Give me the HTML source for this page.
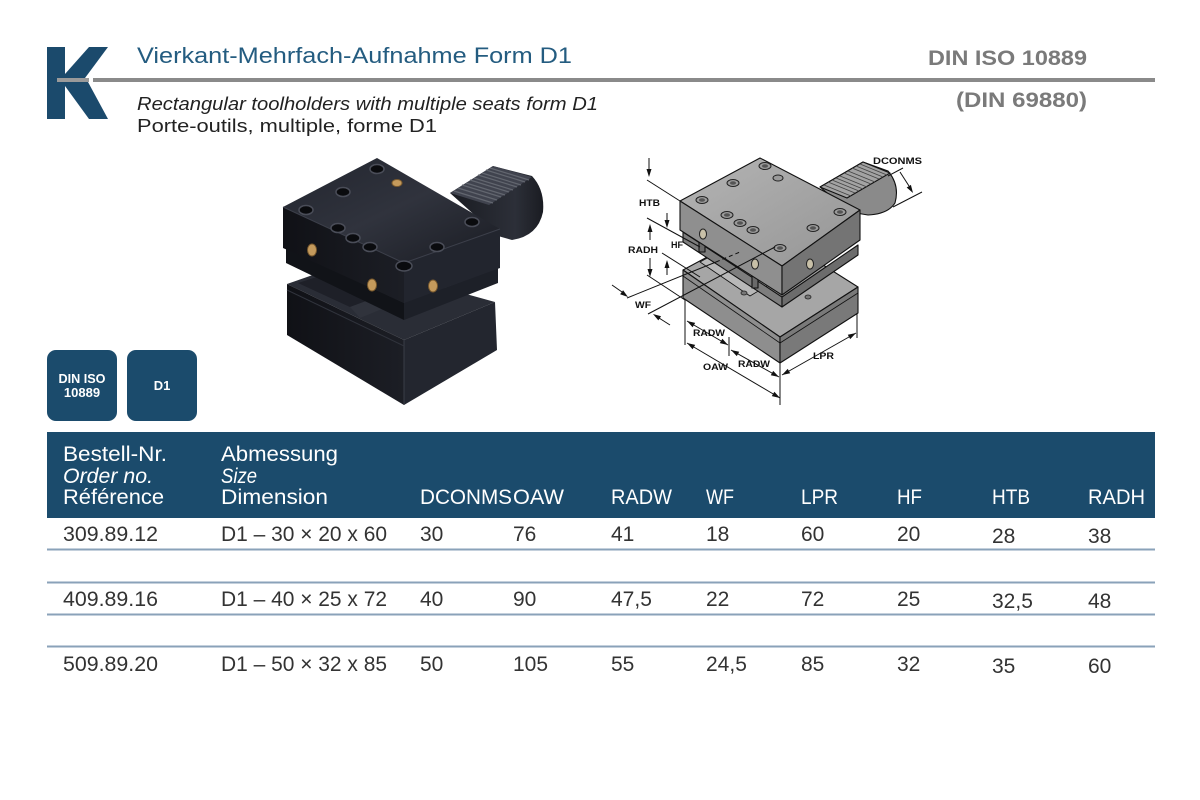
<!DOCTYPE html>
<html>
<head>
<meta charset="utf-8">
<style>
html,body{margin:0;padding:0;background:#fff;}
svg{display:block;}
text{font-family:"Liberation Sans",Arial,sans-serif;}
</style>
</head>
<body>
<svg width="1200" height="800" viewBox="0 0 1200 800" xmlns="http://www.w3.org/2000/svg">
<defs>
<linearGradient id="ptop" x1="0" y1="0" x2="1" y2="1">
<stop offset="0" stop-color="#22252e"/><stop offset="0.5" stop-color="#30333d"/><stop offset="1" stop-color="#1a1c23"/>
</linearGradient>
<linearGradient id="pleft" x1="0" y1="0" x2="1" y2="0">
<stop offset="0" stop-color="#101116"/><stop offset="1" stop-color="#1c1e25"/>
</linearGradient>
<linearGradient id="pshank" x1="0" y1="0" x2="1" y2="0">
<stop offset="0" stop-color="#1a1c22"/><stop offset="0.7" stop-color="#2c2f38"/><stop offset="1" stop-color="#1a1c22"/>
</linearGradient>
<linearGradient id="dtop" x1="0" y1="0" x2="1" y2="1">
<stop offset="0" stop-color="#b4b4b4"/><stop offset="1" stop-color="#959595"/>
</linearGradient>
</defs>
<rect width="1200" height="800" fill="#fff"/>

<!-- Logo K -->
<rect x="47" y="47" width="18" height="72" fill="#1b4a6c"/>
<polygon points="89,47 108,47 85,78 65,78 65,74" fill="#1b4a6c"/>
<polygon points="65,82 88,82 108,119 89,119 65,86" fill="#1b4a6c"/>
<rect x="57" y="78" width="32" height="4" fill="#9a9a9a"/>
<rect x="93" y="78" width="1062" height="4" fill="#8a8a8a"/>

<!-- Titles -->
<text x="137" y="63" font-size="22" fill="#245c80" textLength="435" lengthAdjust="spacingAndGlyphs">Vierkant-Mehrfach-Aufnahme Form D1</text>
<text x="137" y="110" font-size="18" font-style="italic" fill="#222" textLength="461" lengthAdjust="spacingAndGlyphs">Rectangular toolholders with multiple seats form D1</text>
<text x="137" y="132" font-size="18" fill="#222" textLength="300" lengthAdjust="spacingAndGlyphs">Porte-outils, multiple, forme D1</text>
<text x="928" y="65" font-size="21" font-weight="bold" fill="#7a7a7a" textLength="159" lengthAdjust="spacingAndGlyphs">DIN ISO 10889</text>
<text x="956" y="107" font-size="21" font-weight="bold" fill="#7a7a7a" textLength="131" lengthAdjust="spacingAndGlyphs">(DIN 69880)</text>

<!-- Product photo -->
<g>
<!-- base -->
<polygon points="287,284 350,262 495,302 404,340" fill="#2a2d36"/>
<polygon points="287,284 404,340 404,405 287,335" fill="url(#pleft)"/>
<polygon points="404,340 495,302 497,350 404,405" fill="#23262f"/>
<polygon points="298,283 345,268 396,290 350,307" fill="#1e2028"/>
<polygon points="350,307 396,290 404,300 360,318" fill="#30333c"/>
<line x1="404" y1="340" x2="404" y2="405" stroke="#3a3d47" stroke-width="1"/>
<line x1="287" y1="290" x2="404" y2="346" stroke="#30333c" stroke-width="1"/>
<!-- shank -->
<path d="M450,193 L493,166 L532,176 Q545,190 543,212 Q538,236 512,240 L498,236 Z" fill="url(#pshank)"/>
<polygon points="450,193 493,166 532,177 489,205" fill="#40434e"/>
<g stroke="#62666f" stroke-width="1.2">
<line x1="454" y1="191" x2="493" y2="203"/>
<line x1="458" y1="188" x2="497" y2="200"/>
<line x1="462" y1="185" x2="501" y2="197"/>
<line x1="466" y1="183" x2="505" y2="195"/>
<line x1="470" y1="180" x2="509" y2="192"/>
<line x1="474" y1="178" x2="513" y2="190"/>
<line x1="478" y1="175" x2="517" y2="187"/>
<line x1="482" y1="173" x2="521" y2="185"/>
<line x1="486" y1="170" x2="525" y2="182"/>
<line x1="490" y1="168" x2="529" y2="180"/>
</g>
<!-- upper plate -->
<polygon points="286,248 404,303 404,320 286,263" fill="#111318"/>
<polygon points="404,303 498,268 498,283 404,320" fill="#1d2028"/>
<!-- upper block -->
<polygon points="283,207 377,158 500,229 404,263" fill="url(#ptop)"/>
<polygon points="283,207 404,263 404,303 283,248" fill="url(#pleft)"/>
<polygon points="404,263 500,229 500,268 404,303" fill="#22252e"/>
<line x1="283" y1="207" x2="404" y2="263" stroke="#3c3f4a" stroke-width="1"/>
<line x1="404" y1="263" x2="500" y2="229" stroke="#3c3f4a" stroke-width="1"/>
<!-- screws -->
<g fill="#0a0b0e" stroke="#4a4d58" stroke-width="1.5">
<ellipse cx="377" cy="169" rx="7" ry="4.5"/>
<ellipse cx="343" cy="192" rx="7" ry="4.5"/>
<ellipse cx="306" cy="210" rx="7" ry="4.5"/>
<ellipse cx="338" cy="228" rx="7" ry="4.5"/>
<ellipse cx="353" cy="238" rx="7" ry="4.5"/>
<ellipse cx="370" cy="247" rx="7" ry="4.5"/>
<ellipse cx="437" cy="247" rx="7" ry="4.5"/>
<ellipse cx="472" cy="222" rx="7" ry="4.5"/>
<ellipse cx="404" cy="266" rx="8" ry="5"/>
</g>
<g fill="#c49a5c" stroke="#7a5a2e" stroke-width="1">
<ellipse cx="397" cy="183" rx="5" ry="3.5"/>
<ellipse cx="312" cy="250" rx="4.5" ry="6"/>
<ellipse cx="372" cy="285" rx="4.5" ry="6"/>
<ellipse cx="433" cy="286" rx="4.5" ry="6"/>
</g>
</g>

<!-- Technical drawing -->
<g stroke="#111" stroke-width="1.1" stroke-linejoin="round">
<polygon points="683,270 763,227 858,287 780,337" fill="#a6a6a6"/>
<polygon points="683,270 780,337 780,363 683,298" fill="#8e8e8e"/>
<polygon points="780,337 858,287 858,313 780,363" fill="#797979"/>
<line x1="683" y1="276" x2="780" y2="343" stroke-width="0.8"/>
<line x1="780" y1="343" x2="858" y2="293" stroke-width="0.8"/>
<polygon points="700,262 740,240 790,272 750,296" fill="#b8b8b8" stroke-width="0.8"/>
<path d="M820,187 L863,162 L888,171 Q900,185 895,203 Q888,214 868,215 L850,212 Z" fill="#8a8a8a"/>
<polygon points="820,187 863,162 890,173 847,198" fill="#a3a3a3"/>
<g stroke="#444" stroke-width="0.9">
<line x1="824" y1="185" x2="851" y2="196"/>
<line x1="828" y1="182" x2="855" y2="193"/>
<line x1="832" y1="180" x2="859" y2="191"/>
<line x1="836" y1="178" x2="863" y2="189"/>
<line x1="840" y1="176" x2="867" y2="187"/>
<line x1="844" y1="173" x2="871" y2="184"/>
<line x1="848" y1="171" x2="875" y2="182"/>
<line x1="852" y1="168" x2="879" y2="179"/>
<line x1="856" y1="166" x2="883" y2="177"/>
<line x1="860" y1="164" x2="887" y2="175"/>
</g>
<polygon points="683,232 782,297 782,307 683,242" fill="#7d7d7d"/>
<polygon points="782,297 858,245 858,255 782,307" fill="#6c6c6c"/>
<rect x="699" y="236" width="6" height="16" fill="#6a6a6a"/>
<rect x="752" y="272" width="6" height="16" fill="#6a6a6a"/>
<polygon points="680,201 760,158 860,210 782,266" fill="url(#dtop)"/>
<polygon points="680,201 782,266 782,295 680,230" fill="#8f8f8f"/>
<polygon points="782,266 860,210 860,240 782,295" fill="#747474"/>
</g>
<g fill="#9a9a9a" stroke="#222" stroke-width="1">
<ellipse cx="702" cy="200" rx="6" ry="3.5"/>
<ellipse cx="733" cy="183" rx="6" ry="3.5"/>
<ellipse cx="765" cy="166" rx="6" ry="3.5"/>
<ellipse cx="778" cy="178" rx="5" ry="3"/>
<ellipse cx="727" cy="215" rx="6" ry="3.5"/>
<ellipse cx="740" cy="223" rx="6" ry="3.5"/>
<ellipse cx="753" cy="230" rx="6" ry="3.5"/>
<ellipse cx="813" cy="228" rx="6" ry="3.5"/>
<ellipse cx="840" cy="212" rx="6" ry="3.5"/>
<ellipse cx="780" cy="248" rx="6" ry="3.5"/>
</g>
<g fill="#555">
<ellipse cx="702" cy="200" rx="3" ry="1.8"/>
<ellipse cx="733" cy="183" rx="3" ry="1.8"/>
<ellipse cx="765" cy="166" rx="3" ry="1.8"/>
<ellipse cx="727" cy="215" rx="3" ry="1.8"/>
<ellipse cx="740" cy="223" rx="3" ry="1.8"/>
<ellipse cx="753" cy="230" rx="3" ry="1.8"/>
<ellipse cx="813" cy="228" rx="3" ry="1.8"/>
<ellipse cx="840" cy="212" rx="3" ry="1.8"/>
<ellipse cx="780" cy="248" rx="3" ry="1.8"/>
</g>
<g fill="#c8c0a8" stroke="#222" stroke-width="1">
<ellipse cx="703" cy="234" rx="3.5" ry="5"/>
<ellipse cx="755" cy="264" rx="3.5" ry="5"/>
<ellipse cx="810" cy="264" rx="3.5" ry="5"/>
</g>
<ellipse cx="744" cy="293" rx="3" ry="2" fill="#777" stroke="#222" stroke-width="0.8"/>
<ellipse cx="808" cy="297" rx="3" ry="2" fill="#777" stroke="#222" stroke-width="0.8"/>

<g stroke="#111" stroke-width="1" fill="none">
<line x1="647" y1="180" x2="680" y2="201"/>
<line x1="647" y1="218" x2="700" y2="247"/>
<line x1="662" y1="253" x2="700" y2="277"/>
<line x1="647" y1="275" x2="685" y2="300"/>
<line x1="627" y1="298" x2="716" y2="262"/>
<line x1="716" y1="262" x2="740" y2="252" stroke-dasharray="4,3"/>
<line x1="648" y1="314" x2="775" y2="247"/>
<line x1="649" y1="158" x2="649" y2="170"/>
<line x1="667" y1="213" x2="667" y2="221"/>
<line x1="667" y1="275" x2="667" y2="267"/>
<line x1="650" y1="240" x2="650" y2="231"/>
<line x1="650" y1="258" x2="650" y2="270"/>
<line x1="612" y1="285" x2="622" y2="292"/>
<line x1="670" y1="325" x2="659" y2="318"/>
<line x1="685" y1="300" x2="685" y2="345"/>
<line x1="729" y1="337" x2="729" y2="356"/>
<line x1="780" y1="363" x2="780" y2="405"/>
<line x1="857" y1="313" x2="857" y2="338"/>
<line x1="687" y1="321" x2="728" y2="345"/>
<line x1="687" y1="343" x2="780" y2="398"/>
<line x1="731" y1="350" x2="779" y2="377"/>
<line x1="782" y1="375" x2="856" y2="333"/>
<line x1="893" y1="207" x2="922" y2="192"/>
<line x1="888" y1="176" x2="903" y2="168"/>
<line x1="900" y1="172" x2="909" y2="186"/>
</g>
<g fill="#111">
<polygon points="649,177 646.5,169 651.5,169"/>
<polygon points="667,228 664.5,220 669.5,220"/>
<polygon points="667,260 664.5,268 669.5,268"/>
<polygon points="650,224 647.5,232 652.5,232"/>
<polygon points="650,277 647.5,269 652.5,269"/>
<polygon points="628,297 620.1,294.2 623.1,290.2"/>
<polygon points="653,314 661.05,316.2 658.35,320.4"/>
<polygon points="687,321 692.6,327.2 695.2,322.9"/>
<polygon points="728,345 719.8,343.1 722.4,338.8"/>
<polygon points="687,343 692.6,349.2 695.2,344.9"/>
<polygon points="780,398 771.8,396.1 774.4,391.8"/>
<polygon points="731,350 736.8,356.1 739.2,351.7"/>
<polygon points="779,377 770.8,375.3 773.2,370.9"/>
<polygon points="782,375 790.2,373.2 787.7,368.9"/>
<polygon points="856,333 850.2,339.1 847.8,334.8"/>
<polygon points="913,193 906.7,187.5 910.9,184.9"/>
</g>
<g font-size="9" font-weight="bold" fill="#111">
<text x="873" y="164" textLength="49" lengthAdjust="spacingAndGlyphs">DCONMS</text>
<text x="639" y="206" textLength="21" lengthAdjust="spacingAndGlyphs">HTB</text>
<text x="671" y="248" textLength="12" lengthAdjust="spacingAndGlyphs">HF</text>
<text x="628" y="253" textLength="30" lengthAdjust="spacingAndGlyphs">RADH</text>
<text x="635" y="308" textLength="16" lengthAdjust="spacingAndGlyphs">WF</text>
<text x="693" y="336" textLength="32" lengthAdjust="spacingAndGlyphs">RADW</text>
<text x="703" y="370" textLength="25" lengthAdjust="spacingAndGlyphs">OAW</text>
<text x="738" y="367" textLength="32" lengthAdjust="spacingAndGlyphs">RADW</text>
<text x="813" y="359" textLength="21" lengthAdjust="spacingAndGlyphs">LPR</text>
</g>

<!-- Badges -->
<rect x="47" y="350" width="70" height="71" rx="9" fill="#1b4b6c"/>
<rect x="127" y="350" width="70" height="71" rx="9" fill="#1b4b6c"/>
<g fill="#fff" font-size="13" text-anchor="middle">
<text x="82" y="383" font-weight="bold" textLength="47" lengthAdjust="spacingAndGlyphs">DIN ISO</text>
<text x="82" y="397" font-weight="bold">10889</text>
<text x="162" y="390" font-weight="bold">D1</text>
</g>

<!-- Table header -->
<rect x="47" y="432" width="1108" height="86" fill="#1b4b6c"/>
<g fill="#fff" font-size="21">
<text x="63" y="461" textLength="104" lengthAdjust="spacingAndGlyphs">Bestell-Nr.</text>
<text x="63" y="483" font-style="italic" textLength="90" lengthAdjust="spacingAndGlyphs">Order no.</text>
<text x="63" y="504" textLength="101" lengthAdjust="spacingAndGlyphs">Référence</text>
<text x="221" y="461" textLength="117" lengthAdjust="spacingAndGlyphs">Abmessung</text>
<text x="221" y="483" font-style="italic" textLength="36" lengthAdjust="spacingAndGlyphs">Size</text>
<text x="221" y="504" textLength="107" lengthAdjust="spacingAndGlyphs">Dimension</text>
<text x="420" y="504" textLength="92" lengthAdjust="spacingAndGlyphs">DCONMS</text>
<text x="513" y="504" textLength="51" lengthAdjust="spacingAndGlyphs">OAW</text>
<text x="611" y="504" textLength="61" lengthAdjust="spacingAndGlyphs">RADW</text>
<text x="706" y="504" textLength="28" lengthAdjust="spacingAndGlyphs">WF</text>
<text x="801" y="504" textLength="37" lengthAdjust="spacingAndGlyphs">LPR</text>
<text x="897" y="504" textLength="25" lengthAdjust="spacingAndGlyphs">HF</text>
<text x="992" y="504" textLength="38" lengthAdjust="spacingAndGlyphs">HTB</text>
<text x="1088" y="504" textLength="57" lengthAdjust="spacingAndGlyphs">RADH</text>
</g>

<g fill="#8aa2b9">
<rect x="47" y="548.5" width="1108" height="2"/>
<rect x="47" y="581.5" width="1108" height="2"/>
<rect x="47" y="613.5" width="1108" height="2"/>
<rect x="47" y="645.5" width="1108" height="2"/>
</g>

<g fill="#333" font-size="21">
<text x="63" y="541" textLength="95" lengthAdjust="spacingAndGlyphs">309.89.12</text>
<text x="221" y="541" textLength="166" lengthAdjust="spacingAndGlyphs">D1 – 30 × 20 x 60</text>
<text x="420" y="541">30</text>
<text x="513" y="541">76</text>
<text x="611" y="541">41</text>
<text x="706" y="541">18</text>
<text x="801" y="541">60</text>
<text x="897" y="541">20</text>
<text x="992" y="543">28</text>
<text x="1088" y="543">38</text>

<text x="63" y="606" textLength="95" lengthAdjust="spacingAndGlyphs">409.89.16</text>
<text x="221" y="606" textLength="166" lengthAdjust="spacingAndGlyphs">D1 – 40 × 25 x 72</text>
<text x="420" y="606">40</text>
<text x="513" y="606">90</text>
<text x="611" y="606">47,5</text>
<text x="706" y="606">22</text>
<text x="801" y="606">72</text>
<text x="897" y="606">25</text>
<text x="992" y="608">32,5</text>
<text x="1088" y="608">48</text>

<text x="63" y="671" textLength="95" lengthAdjust="spacingAndGlyphs">509.89.20</text>
<text x="221" y="671" textLength="166" lengthAdjust="spacingAndGlyphs">D1 – 50 × 32 x 85</text>
<text x="420" y="671">50</text>
<text x="513" y="671">105</text>
<text x="611" y="671">55</text>
<text x="706" y="671">24,5</text>
<text x="801" y="671">85</text>
<text x="897" y="671">32</text>
<text x="992" y="673">35</text>
<text x="1088" y="673">60</text>
</g>
</svg>
</body>
</html>
